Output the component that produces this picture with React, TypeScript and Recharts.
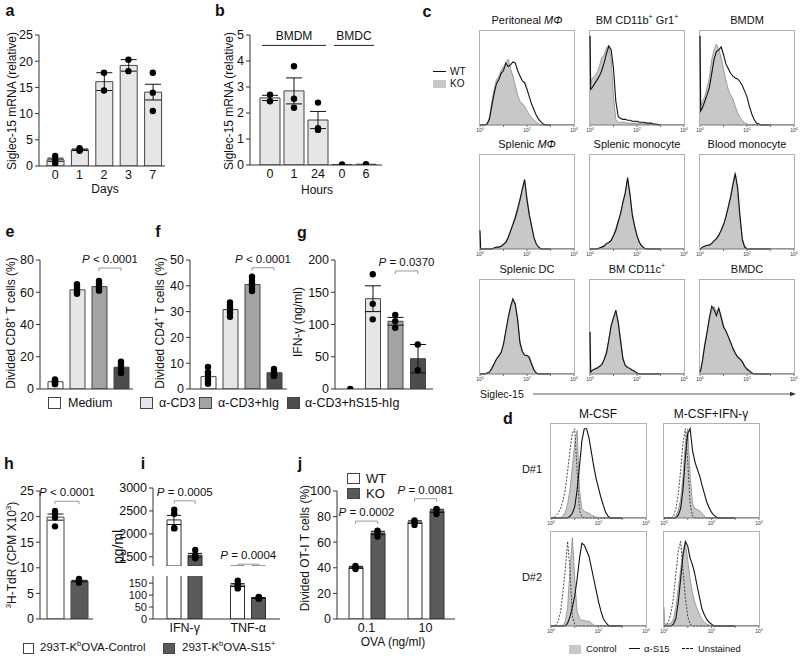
import React from 'react';
import { ComposedChart, Bar, Line, Area, XAxis, YAxis, ErrorBar, ReferenceLine, Cell } from 'recharts';

const FONT = '"Liberation Sans", Arial, Helvetica, sans-serif';
const AXIS = '#333';

// a: Siglec-15 mRNA during culture (days)
const dayCats = ['0', '1', '2', '3', '7'];
const dayMean = [1.2, 3.1, 16.1, 19.2, 14.1];
const daySem = [0.3, 0.15, 1.7, 1.1, 1.5];
const dayReps = [[0.5, 1.1, 1.9], [2.9, 3.1, 3.4], [17.8, 14.4], [20.3, 18.1], [17.8, 14.0, 10.5]];

// b: BMDM / BMDC (hours)
const hourIds = ['M0', 'M1', 'M24', 'C0', 'C6'];
const hourTicks = ['0', '1', '24', '0', '6'];
const hourMean = [2.58, 2.85, 1.73, 0.02, 0.03];
const hourSem = [0.1, 0.5, 0.33, 0, 0];
const hourReps = [[2.7, 2.45], [3.8, 2.55, 2.2], [2.4, 1.42, 1.35], [0.02], [0.03]];

// e, f, g: stimulation conditions
const stimCats = ['Medium', 'α-CD3', 'α-CD3+hIg', 'α-CD3+hS15-hIg'];
const stimFills = ['#ffffff', '#e6e6e6', '#a3a3a3', '#4d4d4d'];
const cd8Mean = [4.5, 61.5, 63.5, 13.5];
const cd8Reps = [[3, 3.6, 4.2, 4.8, 5.3, 6], [59, 60, 61, 62, 63.5, 65], [61, 62, 63, 64, 65.5, 67], [10, 11.5, 13, 14, 15.5, 17]];
const cd4Mean = [4.8, 30.8, 40.5, 6.3];
const cd4Reps = [[2, 3, 4, 5.5, 6.5, 8.5], [28, 29.5, 30.5, 31.5, 32.5, 33.5], [38, 39, 40, 41, 42, 43.5], [5, 5.5, 6, 6.5, 7, 7.8]];
const ifnMean = [0, 140, 105, 47];
const ifnSem = [0, 20, 6, 22];
const ifnReps = [[0], [178, 132, 108], [115, 105, 95], [69, 29]];

// h: 3H-TdR
const cellCats = ['Control', 'S15'];
const cellFills = ['#ffffff', '#5a5a5a'];
const tdrMean = [19.9, 7.4];
const tdrSem = [0.6, 0.15];
const tdrReps = [[21.1, 20.6, 19.8, 18.1], [7.8, 7.5, 7.3, 7.1]];

// i: cytokines (broken axis)
const cytoCats = ['IFN-γ', 'TNF-α'];
const ctrlMean = [2304, 142];
const ctrlSem = [100, 6];
const ctrlReps = [[2525, 2440, 2130, 2120], [160, 145, 135, 128]];
const s15Mean = [1535, 88];
const s15Sem = [40, 2];
const s15Reps = [[1650, 1540, 1480, 1470], [92, 90, 86, 85]];

// j: OT-I division
const ovaCats = ['0.1', '10'];
const wtMean = [40.3, 75.7];
const wtSem = [0.8, 1];
const wtReps = [[41.5, 40.5, 39], [77, 76.5, 73.5]];
const koMean = [67.2, 84.5];
const koSem = [1.3, 1.2];
const koReps = [[69, 68, 64.5], [86, 85.5, 82]];

// histograms: x in log10 units, y as fraction of box height
const HX = [0, 0.03, 0.1, 0.2, 0.3, 0.4, 0.5, 0.6, 0.7, 0.8, 0.9, 1, 1.1, 1.2, 1.3, 1.4, 1.5, 1.6, 1.7, 1.8, 1.9, 2, 2.1, 2.2, 2.3, 2.4, 2.5, 2.6, 2.7, 2.8, 2.9, 3];
const periKO = [0, 0, 0, 0, 0.01, 0.08, 0.25, 0.38, 0.48, 0.52, 0.58, 0.62, 0.66, 0.7, 0.6, 0.52, 0.42, 0.32, 0.25, 0.23, 0.2, 0.15, 0.11, 0.08, 0.05, 0.03, 0.01];
const periWT = [0, 0, 0, 0, 0.01, 0.06, 0.2, 0.33, 0.44, 0.48, 0.55, 0.58, 0.66, 0.62, 0.64, 0.67, 0.66, 0.58, 0.52, 0.47, 0.45, 0.38, 0.3, 0.22, 0.16, 0.1, 0.06, 0.03, 0.01];
const gr1KO = [0.95, 0.45, 0.5, 0.52, 0.56, 0.62, 0.72, 0.74, 0.82, 0.85, 0.7, 0.3, 0.06, 0.03, 0.03, 0.03, 0.03, 0.02, 0.02, 0.02, 0.02, 0.02, 0.015, 0.015, 0.015, 0.01, 0.01, 0.01, 0.005];
const gr1WT = [0.95, 0.38, 0.4, 0.44, 0.48, 0.52, 0.58, 0.66, 0.76, 0.84, 0.8, 0.6, 0.25, 0.09, 0.07, 0.06, 0.06, 0.05, 0.05, 0.04, 0.04, 0.04, 0.03, 0.03, 0.03, 0.02, 0.02, 0.02, 0.01, 0.01, 0.005];
const bmdmKO = [0.95, 0.2, 0.25, 0.3, 0.4, 0.5, 0.7, 0.8, 0.86, 0.8, 0.72, 0.6, 0.48, 0.38, 0.32, 0.28, 0.2, 0.13, 0.08, 0.05, 0.02, 0.01];
const bmdmWT = [0.95, 0.15, 0.18, 0.25, 0.32, 0.4, 0.55, 0.7, 0.78, 0.8, 0.83, 0.75, 0.65, 0.6, 0.55, 0.52, 0.5, 0.49, 0.46, 0.42, 0.36, 0.3, 0.2, 0.12, 0.06, 0.02, 0.01];
const spMacKO = [0, 0, 0, 0, 0, 0, 0, 0.01, 0.01, 0.02, 0.03, 0.04, 0.08, 0.13, 0.2, 0.27, 0.35, 0.44, 0.54, 0.62, 0.72, 0.55, 0.38, 0.22, 0.11, 0.05, 0.02];
const spMacWT = [0.2, 0, 0, 0, 0, 0, 0, 0.01, 0.02, 0.02, 0.03, 0.05, 0.07, 0.12, 0.19, 0.26, 0.33, 0.42, 0.52, 0.64, 0.74, 0.52, 0.36, 0.24, 0.12, 0.05, 0.02];
const spMonoKO = [0, 0, 0, 0, 0, 0.01, 0.02, 0.04, 0.05, 0.06, 0.1, 0.15, 0.22, 0.3, 0.37, 0.48, 0.58, 0.74, 0.6, 0.38, 0.25, 0.15, 0.08, 0.04, 0.01];
const spMonoWT = [0, 0, 0, 0, 0, 0.01, 0.02, 0.03, 0.06, 0.07, 0.09, 0.14, 0.2, 0.29, 0.38, 0.5, 0.6, 0.76, 0.58, 0.36, 0.24, 0.14, 0.07, 0.03, 0.01];
const blMonoKO = [0, 0, 0.02, 0.03, 0.04, 0.05, 0.06, 0.08, 0.1, 0.14, 0.19, 0.25, 0.35, 0.45, 0.56, 0.7, 0.82, 0.6, 0.32, 0.12, 0.03, 0.01];
const blMonoWT = [0, 0, 0.02, 0.03, 0.04, 0.04, 0.06, 0.09, 0.11, 0.15, 0.2, 0.26, 0.34, 0.44, 0.55, 0.68, 0.8, 0.66, 0.36, 0.1, 0.02];
const spDCKO = [0, 0, 0, 0, 0.01, 0.02, 0.05, 0.1, 0.15, 0.2, 0.22, 0.3, 0.45, 0.58, 0.7, 0.78, 0.76, 0.6, 0.35, 0.25, 0.2, 0.19, 0.19, 0.12, 0.05, 0.01];
const spDCWT = [0, 0, 0, 0, 0.01, 0.02, 0.06, 0.11, 0.16, 0.19, 0.23, 0.32, 0.46, 0.6, 0.72, 0.8, 0.74, 0.58, 0.33, 0.24, 0.2, 0.2, 0.17, 0.1, 0.04, 0.01];
const cd11cKO = [0.45, 0.02, 0.04, 0.06, 0.07, 0.08, 0.1, 0.16, 0.24, 0.37, 0.5, 0.58, 0.65, 0.56, 0.38, 0.18, 0.1, 0.07, 0.05, 0.04, 0.02, 0.01];
const cd11cWT = [0.45, 0.02, 0.04, 0.05, 0.06, 0.08, 0.1, 0.15, 0.22, 0.36, 0.52, 0.6, 0.68, 0.55, 0.35, 0.16, 0.09, 0.07, 0.06, 0.04, 0.03, 0.01];
const bmdcKO = [0.02, 0.05, 0.15, 0.32, 0.45, 0.58, 0.68, 0.72, 0.66, 0.7, 0.62, 0.52, 0.45, 0.4, 0.33, 0.28, 0.23, 0.19, 0.16, 0.14, 0.09, 0.06, 0.04, 0.02];
const bmdcWT = [0.02, 0.04, 0.13, 0.3, 0.44, 0.6, 0.72, 0.68, 0.62, 0.7, 0.6, 0.5, 0.46, 0.4, 0.34, 0.27, 0.22, 0.18, 0.16, 0.13, 0.08, 0.05, 0.03, 0.01];

// d: human donors, control / α-S15 / unstained
const d1mUn = [0, 0, 0, 0.02, 0.05, 0.1, 0.18, 0.3, 0.5, 0.72, 0.9, 0.95, 0.5, 0.08, 0.01];
const d1mCt = [0, 0, 0, 0, 0, 0, 0.02, 0.06, 0.15, 0.3, 0.55, 0.8, 0.93, 0.3, 0.1, 0.07, 0.06, 0.05, 0.03, 0.02, 0.01];
const d1mS15 = [0, 0, 0, 0, 0, 0, 0, 0, 0, 0.02, 0.05, 0.12, 0.3, 0.55, 0.82, 0.95, 0.95, 0.85, 0.7, 0.55, 0.42, 0.32, 0.22, 0.14, 0.06, 0.02];
const d1iUn = [0, 0, 0, 0, 0, 0.02, 0.1, 0.25, 0.5, 0.8, 0.95, 0.6, 0.15, 0.02];
const d1iCt = [0, 0, 0, 0, 0, 0, 0.02, 0.08, 0.2, 0.45, 0.8, 0.95, 0.45, 0.15, 0.1, 0.09, 0.08, 0.05, 0.02];
const d1iS15 = [0, 0, 0, 0, 0, 0, 0, 0.03, 0.1, 0.3, 0.65, 0.9, 0.95, 0.72, 0.6, 0.52, 0.45, 0.35, 0.26, 0.17, 0.11, 0.06, 0.03, 0.01];
const d2mUn = [0, 0, 0, 0.01, 0.05, 0.15, 0.35, 0.6, 0.9, 0.6, 0.1, 0.02];
const d2mCt = [0, 0, 0, 0, 0, 0, 0, 0.05, 0.2, 0.6, 0.94, 0.5, 0.15, 0.08, 0.06, 0.06, 0.05, 0.05, 0.03, 0.01];
const d2mS15 = [0, 0, 0, 0, 0, 0, 0, 0, 0.03, 0.1, 0.2, 0.32, 0.5, 0.72, 0.88, 0.86, 0.8, 0.74, 0.62, 0.5, 0.38, 0.26, 0.16, 0.08, 0.04, 0.01];
const d2iUn = [0, 0, 0.01, 0.05, 0.15, 0.3, 0.55, 0.8, 0.9, 0.6, 0.3, 0.1, 0.02];
const d2iCt = [0.2, 0.02, 0.02, 0.02, 0.03, 0.08, 0.2, 0.4, 0.6, 0.8, 0.88, 0.7, 0.5, 0.35, 0.25, 0.18, 0.12, 0.07, 0.04, 0.02, 0.01];
const d2iS15 = [0, 0, 0, 0, 0, 0.02, 0.08, 0.25, 0.5, 0.75, 0.9, 0.85, 0.72, 0.65, 0.55, 0.42, 0.3, 0.18, 0.12, 0.07, 0.04, 0.02];

function repRows(ids: string[], mean: number[], sem: number[] | null, reps: number[][]) {
  return ids.map((cat, i) => {
    const row: any = { cat, mean: mean[i] };
    if (sem) row.sem = sem[i];
    reps[i].forEach((v, k) => { row['r' + k] = v; });
    return row;
  });
}

function pairRows(ids: string[], aMean: number[], aSem: number[], aReps: number[][], bMean: number[], bSem: number[], bReps: number[][]) {
  return ids.map((cat, i) => {
    const row: any = { cat, a: aMean[i], aSem: aSem[i], b: bMean[i], bSem: bSem[i] };
    aReps[i].forEach((v, k) => { row['a' + k] = v; });
    bReps[i].forEach((v, k) => { row['b' + k] = v; });
    return row;
  });
}

const dotAt = (dx: number, lo: number, hi: number) => (p: any) => {
  const k = `${p.dataKey}-${p.index}`;
  const v = typeof p.value === 'number' ? p.value : p.payload ? p.payload[p.dataKey] : undefined;
  if (p.cx == null || p.cy == null || v == null || v < lo || v > hi) return <g key={k} />;
  return <circle key={k} cx={p.cx + dx} cy={p.cy} r={3.2} fill="#000" />;
};

type Bracket = { from: string; to: string; y: number; text: string; dx?: number; tick?: number; plain?: boolean };

const bracketShape = (b: Bracket) => (p: any) => {
  const dx = b.dx ?? 0;
  const tick = b.tick ?? 3;
  const xa = Math.min(p.x1, p.x2) - dx;
  const xb = Math.max(p.x1, p.x2) + dx;
  const y = p.y1;
  return (
    <g>
      <path d={`M${xa},${y + tick}V${y}H${xb}V${y + tick}`} fill="none" stroke={b.plain ? '#222' : '#9a9a9a'} strokeWidth={1} />
      <text x={(xa + xb) / 2} y={y - 5} textAnchor="middle" fontSize={b.plain ? 12 : 11.5} fill="#111" fontFamily={FONT}>
        {b.plain ? b.text : (<><tspan fontStyle="italic">P</tspan>{' ' + b.text}</>)}
      </text>
    </g>
  );
};

const renderBrackets = (brackets: Bracket[]) =>
  brackets.map((b, i) => (
    <ReferenceLine key={'br' + i} segment={[{ x: b.from, y: b.y }, { x: b.to, y: b.y }]} ifOverflow="visible" shape={bracketShape(b)} />
  ));

const yAxisProps = (domain: number[], ticks: number[], size = 12.5) => ({
  width: 40,
  type: 'number' as const,
  domain,
  ticks,
  interval: 0 as const,
  allowDataOverflow: true,
  tickSize: 4,
  tickMargin: 2,
  axisLine: { stroke: AXIS },
  tickLine: { stroke: AXIS },
  tick: { fontSize: size, fill: '#111', fontFamily: FONT },
});

function SinglePanel({ rows, ax, top, w, h, domain, ticks, fills, barSize, padL, padR, reps, err, xTicks, tickFmt, brackets = [] }: any) {
  const yW = 40, mT = 16, mR = 4, xH = xTicks ? 24 : 9;
  return (
    <div style={{ position: 'absolute', left: ax - yW, top: top - mT }}>
      <ComposedChart width={yW + w + mR} height={mT + h + xH} data={rows} margin={{ top: mT, right: mR, left: 0, bottom: 0 }}>
        <XAxis dataKey="cat" type="category" height={xH} padding={{ left: padL, right: padR }} interval={0}
          tickLine={false} tickSize={0} tickMargin={4} axisLine={{ stroke: AXIS }} tickFormatter={tickFmt}
          tick={xTicks ? { fontSize: 12.5, fill: '#111', fontFamily: FONT } : false} />
        <YAxis {...yAxisProps(domain, ticks)} />
        <Bar dataKey="mean" barSize={barSize} stroke="#444" strokeWidth={1} isAnimationActive={false}>
          {rows.map((r: any, i: number) => <Cell key={i} fill={fills[i % fills.length]} />)}
          {err ? <ErrorBar dataKey="sem" width={8} stroke="#111" strokeWidth={1} /> : null}
        </Bar>
        {Array.from({ length: reps }, (_, k) => (
          <Line key={'r' + k} dataKey={'r' + k} stroke="none" isAnimationActive={false} activeDot={false} dot={dotAt(0, domain[0], domain[1])} />
        ))}
        {renderBrackets(brackets)}
      </ComposedChart>
    </div>
  );
}

function GroupPanel({ rows, ax, top, w, h, domain, ticks, fills, barSize, gap, reps, xTicks, tickSize = 12.5, brackets = [] }: any) {
  const yW = 40, mT = 16, mR = 4, xH = xTicks ? 24 : 0;
  const off = (barSize + gap) / 2;
  return (
    <div style={{ position: 'absolute', left: ax - yW, top: top - mT }}>
      <ComposedChart width={yW + w + mR} height={mT + h + xH} data={rows} barGap={gap} margin={{ top: mT, right: mR, left: 0, bottom: 0 }}>
        <XAxis dataKey="cat" type="category" hide={!xTicks} height={xH} interval={0}
          tickLine={false} tickSize={0} tickMargin={4} axisLine={{ stroke: AXIS }}
          tick={{ fontSize: 12.5, fill: '#111', fontFamily: FONT }} />
        <YAxis {...yAxisProps(domain, ticks, tickSize)} />
        <Bar dataKey="a" barSize={barSize} fill={fills[0]} stroke="#333" strokeWidth={1} isAnimationActive={false}>
          <ErrorBar dataKey="aSem" width={7} stroke="#111" strokeWidth={1} />
        </Bar>
        <Bar dataKey="b" barSize={barSize} fill={fills[1]} stroke="#333" strokeWidth={1} isAnimationActive={false}>
          <ErrorBar dataKey="bSem" width={7} stroke="#111" strokeWidth={1} />
        </Bar>
        {Array.from({ length: reps }, (_, k) => (
          <Line key={'a' + k} dataKey={'a' + k} stroke="none" isAnimationActive={false} activeDot={false} dot={dotAt(-off, domain[0], domain[1])} />
        ))}
        {Array.from({ length: reps }, (_, k) => (
          <Line key={'b' + k} dataKey={'b' + k} stroke="none" isAnimationActive={false} activeDot={false} dot={dotAt(off, domain[0], domain[1])} />
        ))}
        {renderBrackets(brackets)}
      </ComposedChart>
    </div>
  );
}

const logTick = (p: any) => {
  const v = p.payload.value;
  if (v % 2 !== 0) return <g />;
  return (
    <text x={p.x} y={p.y + 4} textAnchor="middle" fontSize={5} fill="#333" fontFamily={FONT}>
      10<tspan dy={-2} fontSize={3.5}>{v}</tspan>
    </text>
  );
};

function Histo({ left, top, fill, line, dash, w = 96, h = 95 }: any) {
  const rows = HX.map((x, i) => ({ x, f: fill[i] ?? 0, l: line[i] ?? 0, d: dash ? dash[i] ?? 0 : null }));
  const side = 7;
  return (
    <div style={{ position: 'absolute', left, top }}>
      <div style={{ position: 'absolute', left: 0, top: 0, width: w, height: h, border: '1px solid #b0b0b0', boxSizing: 'border-box' }} />
      <div style={{ position: 'absolute', left: -side, top: 0 }}>
        <ComposedChart width={w + 2 * side} height={h + 10} data={rows} margin={{ top: 1, right: side + 1, bottom: 0, left: side + 1 }}>
          <XAxis type="number" dataKey="x" domain={[0, 4]} ticks={[0, 1, 2, 3, 4]} interval={0} height={10}
            tickSize={2} tickMargin={1} axisLine={{ stroke: '#777' }} tickLine={{ stroke: '#777' }} tick={logTick} />
          <YAxis hide domain={[0, 1]} />
          <Area type="linear" dataKey="f" fill="#c8c8c8" fillOpacity={1} stroke="#8a8a8a" strokeWidth={0.8} dot={false} activeDot={false} isAnimationActive={false} />
          {dash ? <Line type="linear" dataKey="d" stroke="#333" strokeWidth={0.9} strokeDasharray="2 1.5" dot={false} activeDot={false} isAnimationActive={false} /> : null}
          <Line type="linear" dataKey="l" stroke="#111" strokeWidth={1.1} dot={false} activeDot={false} isAnimationActive={false} />
        </ComposedChart>
      </div>
    </div>
  );
}

function Tx({ x, y, size = 12, rot = 0, anchor = 'middle', bold = false, children }: any) {
  const tx = anchor === 'start' ? '0' : anchor === 'end' ? '-100%' : '-50%';
  return (
    <div style={{ position: 'absolute', left: x, top: y, fontSize: size, fontWeight: bold ? 700 : 400, lineHeight: 1, whiteSpace: 'nowrap', transform: `translate(${tx}, -50%) rotate(${rot}deg)` }}>
      {children}
    </div>
  );
}

const Sup = ({ children }: any) => <sup style={{ fontSize: '0.65em', lineHeight: 0 }}>{children}</sup>;
const Swatch = ({ x, y, w = 13, h = 12, bg }: any) => (
  <div style={{ position: 'absolute', left: x, top: y - h / 2, width: w, height: h, background: bg, border: '1px solid #444', boxSizing: 'border-box' }} />
);

const C_COLS = [479, 589, 699];
const C_ROWS = [30, 154, 279];

export default function App() {
  const dayRows = repRows(dayCats, dayMean, daySem, dayReps);
  const hourRows = repRows(hourIds, hourMean, hourSem, hourReps);
  const cd8Rows = repRows(stimCats, cd8Mean, null, cd8Reps);
  const cd4Rows = repRows(stimCats, cd4Mean, null, cd4Reps);
  const ifnRows = repRows(stimCats, ifnMean, ifnSem, ifnReps);
  const tdrRows = repRows(cellCats, tdrMean, tdrSem, tdrReps);
  const cytoRows = pairRows(cytoCats, ctrlMean, ctrlSem, ctrlReps, s15Mean, s15Sem, s15Reps);
  const ovaRows = pairRows(ovaCats, wtMean, wtSem, wtReps, koMean, koSem, koReps);

  const cHist = [
    { title: <>Peritoneal <i>MΦ</i></>, ko: periKO, wt: periWT },
    { title: <>BM CD11b<Sup>+</Sup> Gr1<Sup>+</Sup></>, ko: gr1KO, wt: gr1WT },
    { title: <>BMDM</>, ko: bmdmKO, wt: bmdmWT },
    { title: <>Splenic <i>MΦ</i></>, ko: spMacKO, wt: spMacWT },
    { title: <>Splenic monocyte</>, ko: spMonoKO, wt: spMonoWT },
    { title: <>Blood monocyte</>, ko: blMonoKO, wt: blMonoWT },
    { title: <>Splenic DC</>, ko: spDCKO, wt: spDCWT },
    { title: <>BM CD11c<Sup>+</Sup></>, ko: cd11cKO, wt: cd11cWT },
    { title: <>BMDC</>, ko: bmdcKO, wt: bmdcWT },
  ];
  const dHist = [
    { ct: d1mCt, s15: d1mS15, un: d1mUn },
    { ct: d1iCt, s15: d1iS15, un: d1iUn },
    { ct: d2mCt, s15: d2mS15, un: d2mUn },
    { ct: d2iCt, s15: d2iS15, un: d2iUn },
  ];

  return (
    <div style={{ position: 'absolute', left: 0, top: 0, width: 800, height: 656, background: '#fff', fontFamily: FONT, color: '#111', overflow: 'hidden' }}>
      {/* panel letters */}
      <Tx x={10} y={11} size={16} bold>a</Tx>
      <Tx x={220} y={11} size={16} bold>b</Tx>
      <Tx x={427} y={12} size={16} bold>c</Tx>
      <Tx x={508} y={419} size={16} bold>d</Tx>
      <Tx x={10} y={232} size={16} bold>e</Tx>
      <Tx x={158} y={232} size={16} bold>f</Tx>
      <Tx x={302} y={233} size={16} bold>g</Tx>
      <Tx x={9} y={464} size={16} bold>h</Tx>
      <Tx x={143} y={464} size={16} bold>i</Tx>
      <Tx x={300} y={464} size={16} bold>j</Tx>

      {/* a */}
      <Tx x={12} y={101} rot={-90}>Siglec-15 mRNA (relative)</Tx>
      <SinglePanel rows={dayRows} ax={39} top={35} w={126} h={131} domain={[0, 25]} ticks={[0, 5, 10, 15, 20, 25]}
        fills={['#e6e6e6']} barSize={17} padL={4} padR={0} reps={3} err xTicks />
      <Tx x={105} y={189}>Days</Tx>

      {/* b */}
      <Tx x={229} y={101} rot={-90}>Siglec-15 mRNA (relative)</Tx>
      <SinglePanel rows={hourRows} ax={250} top={35} w={132} h={130} domain={[0, 5]} ticks={[0, 1, 2, 3, 4, 5]}
        fills={['#e6e6e6']} barSize={20} padL={8} padR={4} reps={3} err xTicks
        tickFmt={(v: string) => hourTicks[hourIds.indexOf(v)]}
        brackets={[
          { from: 'M0', to: 'M24', y: 4.6, text: 'BMDM', dx: 8, tick: 0, plain: true },
          { from: 'C0', to: 'C6', y: 4.6, text: 'BMDC', dx: 8, tick: 0, plain: true },
        ]} />
      <Tx x={317} y={190}>Hours</Tx>

      {/* c */}
      <div style={{ position: 'absolute', left: 433, top: 71, width: 13, borderTop: '1.6px solid #111' }} />
      <Tx x={450} y={72} size={10} anchor="start">WT</Tx>
      <div style={{ position: 'absolute', left: 433, top: 80, width: 13, height: 8, background: '#c8c8c8' }} />
      <Tx x={450} y={84} size={10} anchor="start">KO</Tx>
      {cHist.map((p, i) => {
        const x = C_COLS[i % 3];
        const y = C_ROWS[Math.floor(i / 3)];
        return (
          <React.Fragment key={'c' + i}>
            <Tx x={x + 48} y={y - 10} size={11}>{p.title}</Tx>
            <Histo left={x} top={y} fill={p.ko} line={p.wt} />
          </React.Fragment>
        );
      })}
      <Tx x={480} y={394} size={10.5} anchor="start">Siglec-15</Tx>
      <svg style={{ position: 'absolute', left: 530, top: 390 }} width={268} height={8}>
        <line x1={3} y1={4} x2={262} y2={4} stroke="#333" strokeWidth={0.8} />
        <path d="M266,4 L260,1.8 L260,6.2 Z" fill="#333" />
      </svg>

      {/* d */}
      <Tx x={598} y={414} size={12}>M-CSF</Tx>
      <Tx x={711} y={414} size={12}>M-CSF+IFN-γ</Tx>
      <Tx x={532} y={469} size={11}>D#1</Tx>
      <Tx x={532} y={577} size={11}>D#2</Tx>
      {dHist.map((p, i) => (
        <Histo key={'d' + i} left={i % 2 === 0 ? 550 : 663} top={i < 2 ? 423 : 531} w={97} fill={p.ct} line={p.s15} dash={p.un} />
      ))}
      <div style={{ position: 'absolute', left: 569, top: 645, width: 12, height: 9, background: '#c8c8c8' }} />
      <Tx x={586} y={649} size={9.5} anchor="start">Control</Tx>
      <div style={{ position: 'absolute', left: 629, top: 648, width: 11, borderTop: '1.5px solid #111' }} />
      <Tx x={644} y={649} size={9.5} anchor="start">α-S15</Tx>
      <div style={{ position: 'absolute', left: 682, top: 648, width: 11, borderTop: '1.5px dashed #111' }} />
      <Tx x={698} y={649} size={9.5} anchor="start">Unstained</Tx>

      {/* e */}
      <Tx x={11} y={323} rot={-90}>Divided CD8<Sup>+</Sup> T cells (%)</Tx>
      <SinglePanel rows={cd8Rows} ax={40} top={260} w={93} h={129} domain={[0, 80]} ticks={[0, 20, 40, 60, 80]}
        fills={stimFills} barSize={15} padL={4} padR={1} reps={6}
        brackets={[{ from: stimCats[2], to: stimCats[3], y: 75, text: '< 0.0001' }]} />

      {/* f */}
      <Tx x={160} y={323} rot={-90}>Divided CD4<Sup>+</Sup> T cells (%)</Tx>
      <SinglePanel rows={cd4Rows} ax={190} top={260} w={97} h={129} domain={[0, 50]} ticks={[0, 10, 20, 30, 40, 50]}
        fills={stimFills} barSize={15} padL={7} padR={2} reps={6}
        brackets={[{ from: stimCats[2], to: stimCats[3], y: 47, text: '< 0.0001' }]} />

      {/* g */}
      <Tx x={298} y={322} rot={-90}>IFN-γ (ng/ml)</Tx>
      <SinglePanel rows={ifnRows} ax={335} top={260} w={98} h={129} domain={[0, 200]} ticks={[0, 50, 100, 150, 200]}
        fills={stimFills} barSize={15} padL={4} padR={4} reps={3} err
        brackets={[{ from: stimCats[2], to: stimCats[3], y: 183, text: '= 0.0370' }]} />

      {/* e-g legend */}
      <Swatch x={48} y={403} bg={stimFills[0]} />
      <Tx x={68} y={403} size={12.5} anchor="start">{stimCats[0]}</Tx>
      <Swatch x={140} y={403} bg={stimFills[1]} />
      <Tx x={159} y={403} size={12.5} anchor="start">{stimCats[1]}</Tx>
      <Swatch x={199} y={403} bg={stimFills[2]} />
      <Tx x={218} y={403} size={12.5} anchor="start">{stimCats[2]}</Tx>
      <Swatch x={287} y={403} bg={stimFills[3]} />
      <Tx x={305} y={403} size={12.5} anchor="start">{stimCats[3]}</Tx>

      {/* h */}
      <Tx x={12} y={555} rot={-90}><Sup>3</Sup>H-TdR (CPM X10<Sup>3</Sup>)</Tx>
      <SinglePanel rows={tdrRows} ax={40} top={491} w={53} h={128} domain={[0, 25]} ticks={[0, 5, 10, 15, 20, 25]}
        fills={cellFills} barSize={17} padL={3} padR={2} reps={4} err
        brackets={[{ from: cellCats[0], to: cellCats[1], y: 23, text: '< 0.0001' }]} />

      {/* i: broken axis */}
      <Tx x={118} y={547} size={14} rot={-90}>pg/ml</Tx>
      <GroupPanel rows={cytoRows} ax={153} top={488} w={127} h={78} domain={[1300, 3000]} ticks={[1500, 2000, 2500, 3000]}
        fills={cellFills} barSize={14} gap={7} reps={4}
        brackets={[
          { from: cytoCats[0], to: cytoCats[0], y: 2720, dx: 10.5, text: '= 0.0005' },
          { from: cytoCats[1], to: cytoCats[1], y: 1340, dx: 10.5, text: '= 0.0004' },
        ]} />
      <GroupPanel rows={cytoRows} ax={153} top={576} w={127} h={43} domain={[0, 180]} ticks={[0, 50, 100, 150]}
        fills={cellFills} barSize={14} gap={7} reps={4} xTicks tickSize={11} />

      {/* h-i legend */}
      <Swatch x={23} y={648} w={11} h={11} bg={cellFills[0]} />
      <Tx x={40} y={648} size={11.5} anchor="start">293T-K<Sup>b</Sup>OVA-Control</Tx>
      <Swatch x={163} y={648} w={12} h={11} bg={cellFills[1]} />
      <Tx x={182} y={648} size={11.5} anchor="start">293T-K<Sup>b</Sup>OVA-S15<Sup>+</Sup></Tx>

      {/* j */}
      <Tx x={305} y={548} rot={-90}>Divided OT-I T cells (%)</Tx>
      <Swatch x={347} y={478} w={13} h={11} bg="#ffffff" />
      <Tx x={366} y={478} size={13} anchor="start">WT</Tx>
      <Swatch x={347} y={493} w={13} h={11} bg="#5a5a5a" />
      <Tx x={366} y={493} size={13} anchor="start">KO</Tx>
      <GroupPanel rows={ovaRows} ax={337} top={491} w={118} h={128} domain={[0, 100]} ticks={[0, 20, 40, 60, 80, 100]}
        fills={['#ffffff', '#5a5a5a']} barSize={14} gap={8} reps={3} xTicks
        brackets={[
          { from: ovaCats[0], to: ovaCats[0], y: 76.5, dx: 11, text: '= 0.0002' },
          { from: ovaCats[1], to: ovaCats[1], y: 94, dx: 11, text: '= 0.0081' },
        ]} />
      <Tx x={393} y={642}>OVA (ng/ml)</Tx>
    </div>
  );
}
